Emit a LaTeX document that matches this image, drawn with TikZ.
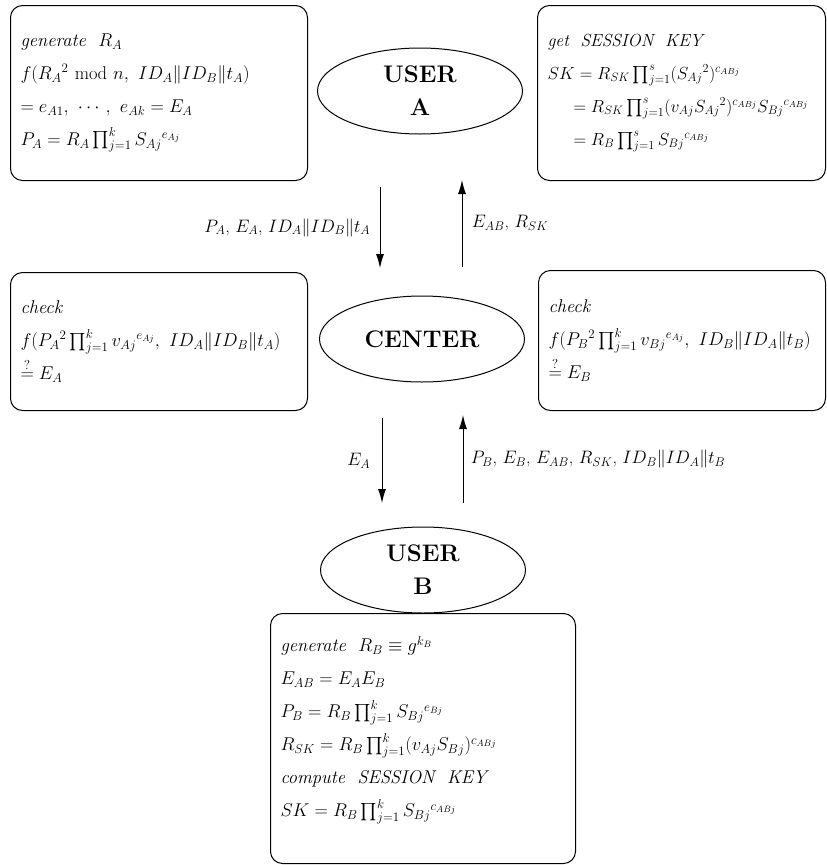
\RequirePackage{fix-cm}
\documentclass[tikz,border=0pt]{standalone}
\usepackage{amsmath}
\usepackage{fontspec}
\usepackage{tikz}
\usetikzlibrary{positioning,shapes.geometric,arrows.meta}

\begin{document}
\begin{tikzpicture}[x=1pt, y=-1pt,
  userblob/.style={ellipse, draw, line width=1pt, minimum width=205pt, minimum height=86pt, inner sep=0pt, align=center, font=\bfseries\fontsize{24}{33}\selectfont},
  stepbox/.style={rectangle, draw, line width=1pt, rounded corners=12pt, anchor=north west, align=left, inner xsep=10pt, font=\fontsize{18.5}{33}\selectfont},
  msg/.style={font=\fontsize{18}{22}\selectfont},
  flow/.style={line width=1pt, -{Latex[length=14pt, width=8pt]}}]

        \useasboundingbox (0,0) rectangle (827,865);

        \node[userblob] (userA) at (420,91) {USER\\A};
        \node[userblob] (center) at (422,339) {CENTER};
        \node[userblob] (userB) at (423,570) {USER\\B};

        \node[stepbox, text width=277pt, minimum height=175pt] (genA) at (10,5) {\textit{generate}\ \ $R_A$\\
          $f(R_A{}^2\ \mathrm{mod}\ n,\ ID_A\|ID_B\|t_A)$\\
          $= e_{A1},\ \cdots,\ e_{Ak} = E_A$\\
          $P_A = R_A \prod\nolimits_{j=1}^{k} S_{Aj}{}^{e_{Aj}}$};
        \node[stepbox, text width=268pt, minimum height=175pt, font=\fontsize{17.5}{33}\selectfont] (keyA) at (537,5) {\textit{get\ \ SESSION\ \ KEY}\\
          $SK = R_{SK} \prod\nolimits_{j=1}^{s} (S_{Aj}{}^2)^{c_{ABj}}$\\
          \makebox[\linewidth][l]{\hspace*{26pt}$= R_{SK} \prod\nolimits_{j=1}^{s} (v_{Aj}S_{Aj}{}^2)^{c_{ABj}} S_{Bj}{}^{c_{ABj}}$}\\
          \hspace*{26pt}$= R_B \prod\nolimits_{j=1}^{s} S_{Bj}{}^{c_{ABj}}$};
        \node[stepbox, text width=277pt, minimum height=138pt] (checkA) at (10,272) {\textit{check}\\
          $f(P_A{}^2 \prod\nolimits_{j=1}^{k} v_{Aj}{}^{e_{Aj}},\ ID_A\|ID_B\|t_A)$\\
          $\stackrel{?}{=} E_A$};
        \node[stepbox, text width=267pt, minimum height=140pt] (checkB) at (538,270) {\textit{check}\\
          $f(P_B{}^2 \prod\nolimits_{j=1}^{k} v_{Bj}{}^{e_{Aj}},\ ID_B\|ID_A\|t_B)$\\
          $\stackrel{?}{=} E_B$};
        \node[stepbox, text width=285pt, minimum height=250pt] (genB) at (270,613) {\textit{generate}\ \ $R_B \equiv g^{k_B}$\\
          $E_{AB} = E_AE_B$\\
          $P_B = R_B \prod\nolimits_{j=1}^{k} S_{Bj}{}^{e_{Bj}}$\\
          $R_{SK} = R_B \prod\nolimits_{j=1}^{k} (v_{Aj}S_{Bj})^{c_{ABj}}$\\
          \textit{compute\ \ SESSION\ \ KEY}\\
          $SK = R_B \prod\nolimits_{j=1}^{k} S_{Bj}{}^{c_{ABj}}$\rule[-24pt]{0pt}{0pt}};

        % message ends
        \coordinate (downA1) at (380,187);
        \coordinate (downA2) at (380,268);
        \coordinate (upA1) at (462,267);
        \coordinate (upA2) at (462,180);
        \coordinate (downB1) at (382,418);
        \coordinate (downB2) at (382,503);
        \coordinate (upB1) at (463,503);
        \coordinate (upB2) at (463,415);

        \draw[flow] (downA1) -- node[msg, left=6pt] {$P_A$, $E_A$, $ID_A\|ID_B\|t_A$} (downA2);
        \draw[flow] (upA1) -- node[msg, right=6pt] {$E_{AB}$, $R_{SK}$} (upA2);
        \draw[flow] (downB1) -- node[msg, left=8pt] {$E_A$} (downB2);
        \draw[flow] (upB1) -- node[msg, right=4pt] {$P_B$, $E_B$, $E_{AB}$, $R_{SK}$, $ID_B\|ID_A\|t_B$} (upB2);

\end{tikzpicture}
\end{document}
